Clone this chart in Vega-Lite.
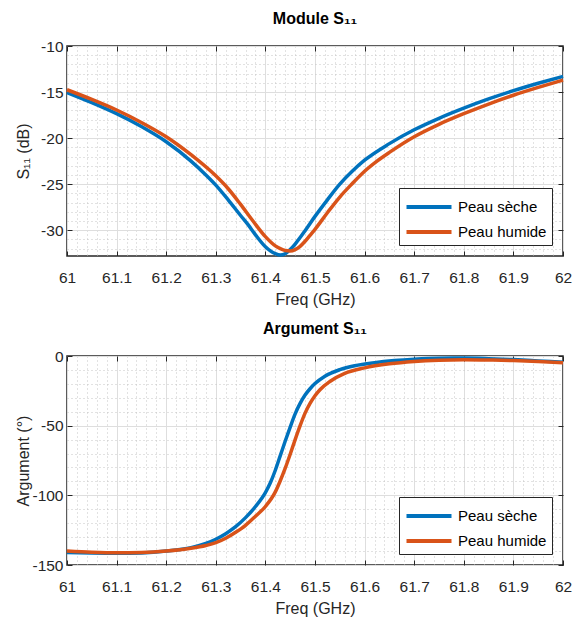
{
  "$schema": "https://vega.github.io/schema/vega-lite/v6.json",
  "autosize": {"type": "pad"},
  "padding": {"left": 14, "top": 10, "right": 7, "bottom": 0},
  "background": "white",
  "bounds": "flush",
  "spacing": 100,
  "config": {
    "font": "Liberation Sans",
    "axis": {"labelFontSize": 15.5, "labelColor": "#262626", "titleFontSize": 16, "titleFontWeight": "normal", "titleColor": "#262626", "labelFont": "Liberation Sans", "titleFont": "Liberation Sans"},
    "view": {"stroke": "#262626", "strokeWidth": 1.5},
    "title": {"fontSize": 16, "fontWeight": "bold", "color": "black", "font": "Liberation Sans", "offset": 12},
    "legend": {"orient": "bottom-right", "offset": 11, "title": null, "symbolType": "M-1.875,0H1.875", "symbolSize": 576, "symbolStrokeWidth": 4, "symbolOffset": 11, "labelOffset": 15, "labelFontSize": 15, "labelFont": "Liberation Sans", "labelColor": "black", "strokeColor": "#262626", "fillColor": "white", "padding": 5, "rowPadding": 3}
  },
  "resolve": {"legend": {"color": "independent"}},
  "datasets": {
    "s11": [
      {"f": 61.00, "s": "Peau sèche", "v": -15.05},
      {"f": 61.05, "s": "Peau sèche", "v": -16.15},
      {"f": 61.10, "s": "Peau sèche", "v": -17.35},
      {"f": 61.15, "s": "Peau sèche", "v": -18.75},
      {"f": 61.20, "s": "Peau sèche", "v": -20.4},
      {"f": 61.25, "s": "Peau sèche", "v": -22.5},
      {"f": 61.28, "s": "Peau sèche", "v": -24.0},
      {"f": 61.30, "s": "Peau sèche", "v": -25.1},
      {"f": 61.325, "s": "Peau sèche", "v": -26.7},
      {"f": 61.35, "s": "Peau sèche", "v": -28.4},
      {"f": 61.365, "s": "Peau sèche", "v": -29.4},
      {"f": 61.38, "s": "Peau sèche", "v": -30.5},
      {"f": 61.40, "s": "Peau sèche", "v": -31.8},
      {"f": 61.41, "s": "Peau sèche", "v": -32.25},
      {"f": 61.42, "s": "Peau sèche", "v": -32.55},
      {"f": 61.43, "s": "Peau sèche", "v": -32.7},
      {"f": 61.44, "s": "Peau sèche", "v": -32.55},
      {"f": 61.45, "s": "Peau sèche", "v": -32.1},
      {"f": 61.46, "s": "Peau sèche", "v": -31.5},
      {"f": 61.47, "s": "Peau sèche", "v": -30.8},
      {"f": 61.48, "s": "Peau sèche", "v": -30.05},
      {"f": 61.50, "s": "Peau sèche", "v": -28.5},
      {"f": 61.525, "s": "Peau sèche", "v": -26.7},
      {"f": 61.55, "s": "Peau sèche", "v": -25.0},
      {"f": 61.575, "s": "Peau sèche", "v": -23.6},
      {"f": 61.60, "s": "Peau sèche", "v": -22.4},
      {"f": 61.65, "s": "Peau sèche", "v": -20.6},
      {"f": 61.70, "s": "Peau sèche", "v": -19.1},
      {"f": 61.75, "s": "Peau sèche", "v": -17.85},
      {"f": 61.80, "s": "Peau sèche", "v": -16.75},
      {"f": 61.85, "s": "Peau sèche", "v": -15.75},
      {"f": 61.90, "s": "Peau sèche", "v": -14.85},
      {"f": 61.95, "s": "Peau sèche", "v": -14.05},
      {"f": 62.00, "s": "Peau sèche", "v": -13.3},
      {"f": 61.00, "s": "Peau humide", "v": -14.75},
      {"f": 61.05, "s": "Peau humide", "v": -15.8},
      {"f": 61.10, "s": "Peau humide", "v": -16.95},
      {"f": 61.15, "s": "Peau humide", "v": -18.3},
      {"f": 61.20, "s": "Peau humide", "v": -19.85},
      {"f": 61.25, "s": "Peau humide", "v": -21.8},
      {"f": 61.30, "s": "Peau humide", "v": -24.1},
      {"f": 61.325, "s": "Peau humide", "v": -25.5},
      {"f": 61.35, "s": "Peau humide", "v": -27.2},
      {"f": 61.375, "s": "Peau humide", "v": -29.0},
      {"f": 61.40, "s": "Peau humide", "v": -30.7},
      {"f": 61.42, "s": "Peau humide", "v": -31.7},
      {"f": 61.43, "s": "Peau humide", "v": -32.0},
      {"f": 61.44, "s": "Peau humide", "v": -32.2},
      {"f": 61.45, "s": "Peau humide", "v": -32.25},
      {"f": 61.46, "s": "Peau humide", "v": -32.1},
      {"f": 61.47, "s": "Peau humide", "v": -31.75},
      {"f": 61.48, "s": "Peau humide", "v": -31.2},
      {"f": 61.49, "s": "Peau humide", "v": -30.55},
      {"f": 61.50, "s": "Peau humide", "v": -29.9},
      {"f": 61.525, "s": "Peau humide", "v": -28.1},
      {"f": 61.55, "s": "Peau humide", "v": -26.4},
      {"f": 61.575, "s": "Peau humide", "v": -24.95},
      {"f": 61.60, "s": "Peau humide", "v": -23.6},
      {"f": 61.625, "s": "Peau humide", "v": -22.5},
      {"f": 61.65, "s": "Peau humide", "v": -21.55},
      {"f": 61.70, "s": "Peau humide", "v": -19.85},
      {"f": 61.75, "s": "Peau humide", "v": -18.5},
      {"f": 61.80, "s": "Peau humide", "v": -17.35},
      {"f": 61.85, "s": "Peau humide", "v": -16.3},
      {"f": 61.90, "s": "Peau humide", "v": -15.35},
      {"f": 61.95, "s": "Peau humide", "v": -14.5},
      {"f": 62.00, "s": "Peau humide", "v": -13.7}
    ],
    "arg": [
      {"f": 61.00, "s": "Peau sèche", "v": -141},
      {"f": 61.05, "s": "Peau sèche", "v": -141.4},
      {"f": 61.10, "s": "Peau sèche", "v": -141.6},
      {"f": 61.15, "s": "Peau sèche", "v": -141.3},
      {"f": 61.20, "s": "Peau sèche", "v": -140},
      {"f": 61.25, "s": "Peau sèche", "v": -137.5},
      {"f": 61.28, "s": "Peau sèche", "v": -134.5},
      {"f": 61.30, "s": "Peau sèche", "v": -131.5},
      {"f": 61.32, "s": "Peau sèche", "v": -127.5},
      {"f": 61.34, "s": "Peau sèche", "v": -122.5},
      {"f": 61.36, "s": "Peau sèche", "v": -116},
      {"f": 61.38, "s": "Peau sèche", "v": -108},
      {"f": 61.40, "s": "Peau sèche", "v": -98},
      {"f": 61.41, "s": "Peau sèche", "v": -91},
      {"f": 61.42, "s": "Peau sèche", "v": -82},
      {"f": 61.43, "s": "Peau sèche", "v": -71.5},
      {"f": 61.44, "s": "Peau sèche", "v": -61},
      {"f": 61.45, "s": "Peau sèche", "v": -51},
      {"f": 61.46, "s": "Peau sèche", "v": -41.5},
      {"f": 61.47, "s": "Peau sèche", "v": -34},
      {"f": 61.48, "s": "Peau sèche", "v": -28},
      {"f": 61.49, "s": "Peau sèche", "v": -23.5},
      {"f": 61.50, "s": "Peau sèche", "v": -19.8},
      {"f": 61.52, "s": "Peau sèche", "v": -14.5},
      {"f": 61.55, "s": "Peau sèche", "v": -9.8},
      {"f": 61.58, "s": "Peau sèche", "v": -7.0},
      {"f": 61.62, "s": "Peau sèche", "v": -4.8},
      {"f": 61.66, "s": "Peau sèche", "v": -3.3},
      {"f": 61.70, "s": "Peau sèche", "v": -2.3},
      {"f": 61.75, "s": "Peau sèche", "v": -1.6},
      {"f": 61.80, "s": "Peau sèche", "v": -1.5},
      {"f": 61.85, "s": "Peau sèche", "v": -1.9},
      {"f": 61.90, "s": "Peau sèche", "v": -2.6},
      {"f": 61.95, "s": "Peau sèche", "v": -3.5},
      {"f": 62.00, "s": "Peau sèche", "v": -4.4},
      {"f": 61.00, "s": "Peau humide", "v": -140},
      {"f": 61.05, "s": "Peau humide", "v": -140.8},
      {"f": 61.10, "s": "Peau humide", "v": -141.2},
      {"f": 61.15, "s": "Peau humide", "v": -141.0},
      {"f": 61.20, "s": "Peau humide", "v": -140},
      {"f": 61.25, "s": "Peau humide", "v": -138},
      {"f": 61.28, "s": "Peau humide", "v": -136},
      {"f": 61.30, "s": "Peau humide", "v": -134},
      {"f": 61.32, "s": "Peau humide", "v": -130.8},
      {"f": 61.34, "s": "Peau humide", "v": -126.5},
      {"f": 61.36, "s": "Peau humide", "v": -121.5},
      {"f": 61.38, "s": "Peau humide", "v": -115},
      {"f": 61.40, "s": "Peau humide", "v": -108},
      {"f": 61.42, "s": "Peau humide", "v": -97.5},
      {"f": 61.43, "s": "Peau humide", "v": -89.5},
      {"f": 61.44, "s": "Peau humide", "v": -80.5},
      {"f": 61.45, "s": "Peau humide", "v": -70.5},
      {"f": 61.46, "s": "Peau humide", "v": -60},
      {"f": 61.47, "s": "Peau humide", "v": -50},
      {"f": 61.48, "s": "Peau humide", "v": -41},
      {"f": 61.49, "s": "Peau humide", "v": -34},
      {"f": 61.50, "s": "Peau humide", "v": -28.5},
      {"f": 61.51, "s": "Peau humide", "v": -24.2},
      {"f": 61.53, "s": "Peau humide", "v": -18.3},
      {"f": 61.56, "s": "Peau humide", "v": -12.5},
      {"f": 61.60, "s": "Peau humide", "v": -8.5},
      {"f": 61.65, "s": "Peau humide", "v": -5.6},
      {"f": 61.70, "s": "Peau humide", "v": -3.9},
      {"f": 61.75, "s": "Peau humide", "v": -3.0},
      {"f": 61.80, "s": "Peau humide", "v": -2.7},
      {"f": 61.85, "s": "Peau humide", "v": -2.9},
      {"f": 61.90, "s": "Peau humide", "v": -3.3},
      {"f": 61.95, "s": "Peau humide", "v": -4.0},
      {"f": 62.00, "s": "Peau humide", "v": -4.8}
    ]
  },
  "vconcat": [
    {
      "width": 496,
      "height": 210,
      "title": {"text": "Module S₁₁", "anchor": "middle"},
      "data": {"name": "s11"},
      "resolve": {"axis": {"x": "independent", "y": "independent"}},
      "layer": [
        {
          "mark": {"type": "line", "strokeWidth": 3.5, "interpolate": "monotone"},
          "encoding": {
            "x": {"field": "f", "type": "quantitative", "scale": {"domain": [61, 62], "nice": false, "zero": false},
              "axis": {"orient": "bottom", "values": [61,61.02,61.04,61.06,61.08,61.1,61.12,61.14,61.16,61.18,61.2,61.22,61.24,61.26,61.28,61.3,61.32,61.34,61.36,61.38,61.4,61.42,61.44,61.46,61.48,61.5,61.52,61.54,61.56,61.58,61.6,61.62,61.64,61.66,61.68,61.7,61.72,61.74,61.76,61.78,61.8,61.82,61.84,61.86,61.88,61.9,61.92,61.94,61.96,61.98,62],
                "title": "Freq (GHz)", "titlePadding": 6, "labelPadding": 14, "labelOverlap": false, "labelFlush": false, "ticks": false, "domain": false,
                "labelExpr": "abs(datum.value*10-round(datum.value*10))<0.01 ? ''+datum.value : ''",
                "grid": true,
                "gridColor": {"condition": {"test": "abs(datum.value*10-round(datum.value*10))<0.01", "value": "#dedede"}, "value": "#c4c4c4"},
                "gridDash": {"condition": {"test": "abs(datum.value*10-round(datum.value*10))<0.01", "value": []}, "value": [1, 3]}}},
            "y": {"field": "v", "type": "quantitative", "scale": {"domain": [-32.8, -10], "nice": false, "zero": false},
              "axis": {"orient": "left", "values": [-32,-31,-30,-29,-28,-27,-26,-25,-24,-23,-22,-21,-20,-19,-18,-17,-16,-15,-14,-13,-12,-11,-10],
                "title": "S₁₁ (dB)", "titleX": -36, "titleY": 105, "labelPadding": 4, "labelOverlap": false, "ticks": false, "domain": false,
                "labelExpr": "datum.value % 5 == 0 ? ''+datum.value : ''",
                "grid": true,
                "gridColor": {"condition": {"test": "datum.value % 5 == 0", "value": "#dedede"}, "value": "#c4c4c4"},
                "gridDash": {"condition": {"test": "datum.value % 5 == 0", "value": []}, "value": [1, 3]}}},
            "color": {"field": "s", "type": "nominal", "sort": ["Peau sèche", "Peau humide"], "scale": {"domain": ["Peau sèche", "Peau humide"], "range": ["#0072BD", "#D95319"]}}
          }
        },
        {
          "mark": {"type": "point", "opacity": 0},
          "encoding": {
            "x": {"field": "f", "type": "quantitative", "axis": {"orient": "bottom", "values": [61,61.1,61.2,61.3,61.4,61.5,61.6,61.7,61.8,61.9,62], "labels": false, "ticks": true, "tickSize": -5, "tickColor": "#262626", "domain": false, "grid": false, "title": null}},
            "y": {"field": "v", "type": "quantitative", "axis": {"orient": "left", "values": [-30,-25,-20,-15,-10], "labels": false, "ticks": true, "tickSize": -5, "tickColor": "#262626", "domain": false, "grid": false, "title": null}}
          }
        },
        {
          "mark": {"type": "point", "opacity": 0},
          "encoding": {
            "x": {"field": "f", "type": "quantitative", "axis": {"orient": "top", "values": [61,61.1,61.2,61.3,61.4,61.5,61.6,61.7,61.8,61.9,62], "labels": false, "ticks": true, "tickSize": -5, "tickColor": "#262626", "domain": false, "grid": false, "title": null}},
            "y": {"field": "v", "type": "quantitative", "axis": {"orient": "right", "values": [-30,-25,-20,-15,-10], "labels": false, "ticks": true, "tickSize": -5, "tickColor": "#262626", "domain": false, "grid": false, "title": null}}
          }
        }
      ]
    },
    {
      "width": 496,
      "height": 209,
      "title": {"text": "Argument S₁₁", "anchor": "middle"},
      "data": {"name": "arg"},
      "resolve": {"axis": {"x": "independent", "y": "independent"}},
      "layer": [
        {
          "mark": {"type": "line", "strokeWidth": 3.5, "interpolate": "monotone"},
          "encoding": {
            "x": {"field": "f", "type": "quantitative", "scale": {"domain": [61, 62], "nice": false, "zero": false},
              "axis": {"orient": "bottom", "values": [61,61.02,61.04,61.06,61.08,61.1,61.12,61.14,61.16,61.18,61.2,61.22,61.24,61.26,61.28,61.3,61.32,61.34,61.36,61.38,61.4,61.42,61.44,61.46,61.48,61.5,61.52,61.54,61.56,61.58,61.6,61.62,61.64,61.66,61.68,61.7,61.72,61.74,61.76,61.78,61.8,61.82,61.84,61.86,61.88,61.9,61.92,61.94,61.96,61.98,62],
                "title": "Freq (GHz)", "titlePadding": 6, "labelPadding": 14, "labelOverlap": false, "labelFlush": false, "ticks": false, "domain": false,
                "labelExpr": "abs(datum.value*10-round(datum.value*10))<0.01 ? ''+datum.value : ''",
                "grid": true,
                "gridColor": {"condition": {"test": "abs(datum.value*10-round(datum.value*10))<0.01", "value": "#dedede"}, "value": "#c4c4c4"},
                "gridDash": {"condition": {"test": "abs(datum.value*10-round(datum.value*10))<0.01", "value": []}, "value": [1, 3]}}},
            "y": {"field": "v", "type": "quantitative", "scale": {"domain": [-150, 0], "nice": false, "zero": false},
              "axis": {"orient": "left", "values": [-150,-140,-130,-120,-110,-100,-90,-80,-70,-60,-50,-40,-30,-20,-10,0],
                "title": "Argument (°)", "titleX": -36, "titleY": 104.5, "labelPadding": 4, "labelOverlap": false, "ticks": false, "domain": false,
                "labelExpr": "datum.value % 50 == 0 ? ''+datum.value : ''",
                "grid": true,
                "gridColor": {"condition": {"test": "datum.value % 50 == 0", "value": "#dedede"}, "value": "#c4c4c4"},
                "gridDash": {"condition": {"test": "datum.value % 50 == 0", "value": []}, "value": [1, 3]}}},
            "color": {"field": "s", "type": "nominal", "sort": ["Peau sèche", "Peau humide"], "scale": {"domain": ["Peau sèche", "Peau humide"], "range": ["#0072BD", "#D95319"]}}
          }
        },
        {
          "mark": {"type": "point", "opacity": 0},
          "encoding": {
            "x": {"field": "f", "type": "quantitative", "axis": {"orient": "bottom", "values": [61,61.1,61.2,61.3,61.4,61.5,61.6,61.7,61.8,61.9,62], "labels": false, "ticks": true, "tickSize": -5, "tickColor": "#262626", "domain": false, "grid": false, "title": null}},
            "y": {"field": "v", "type": "quantitative", "axis": {"orient": "left", "values": [-150,-100,-50,0], "labels": false, "ticks": true, "tickSize": -5, "tickColor": "#262626", "domain": false, "grid": false, "title": null}}
          }
        },
        {
          "mark": {"type": "point", "opacity": 0},
          "encoding": {
            "x": {"field": "f", "type": "quantitative", "axis": {"orient": "top", "values": [61,61.1,61.2,61.3,61.4,61.5,61.6,61.7,61.8,61.9,62], "labels": false, "ticks": true, "tickSize": -5, "tickColor": "#262626", "domain": false, "grid": false, "title": null}},
            "y": {"field": "v", "type": "quantitative", "axis": {"orient": "right", "values": [-150,-100,-50,0], "labels": false, "ticks": true, "tickSize": -5, "tickColor": "#262626", "domain": false, "grid": false, "title": null}}
          }
        }
      ]
    }
  ]
}
